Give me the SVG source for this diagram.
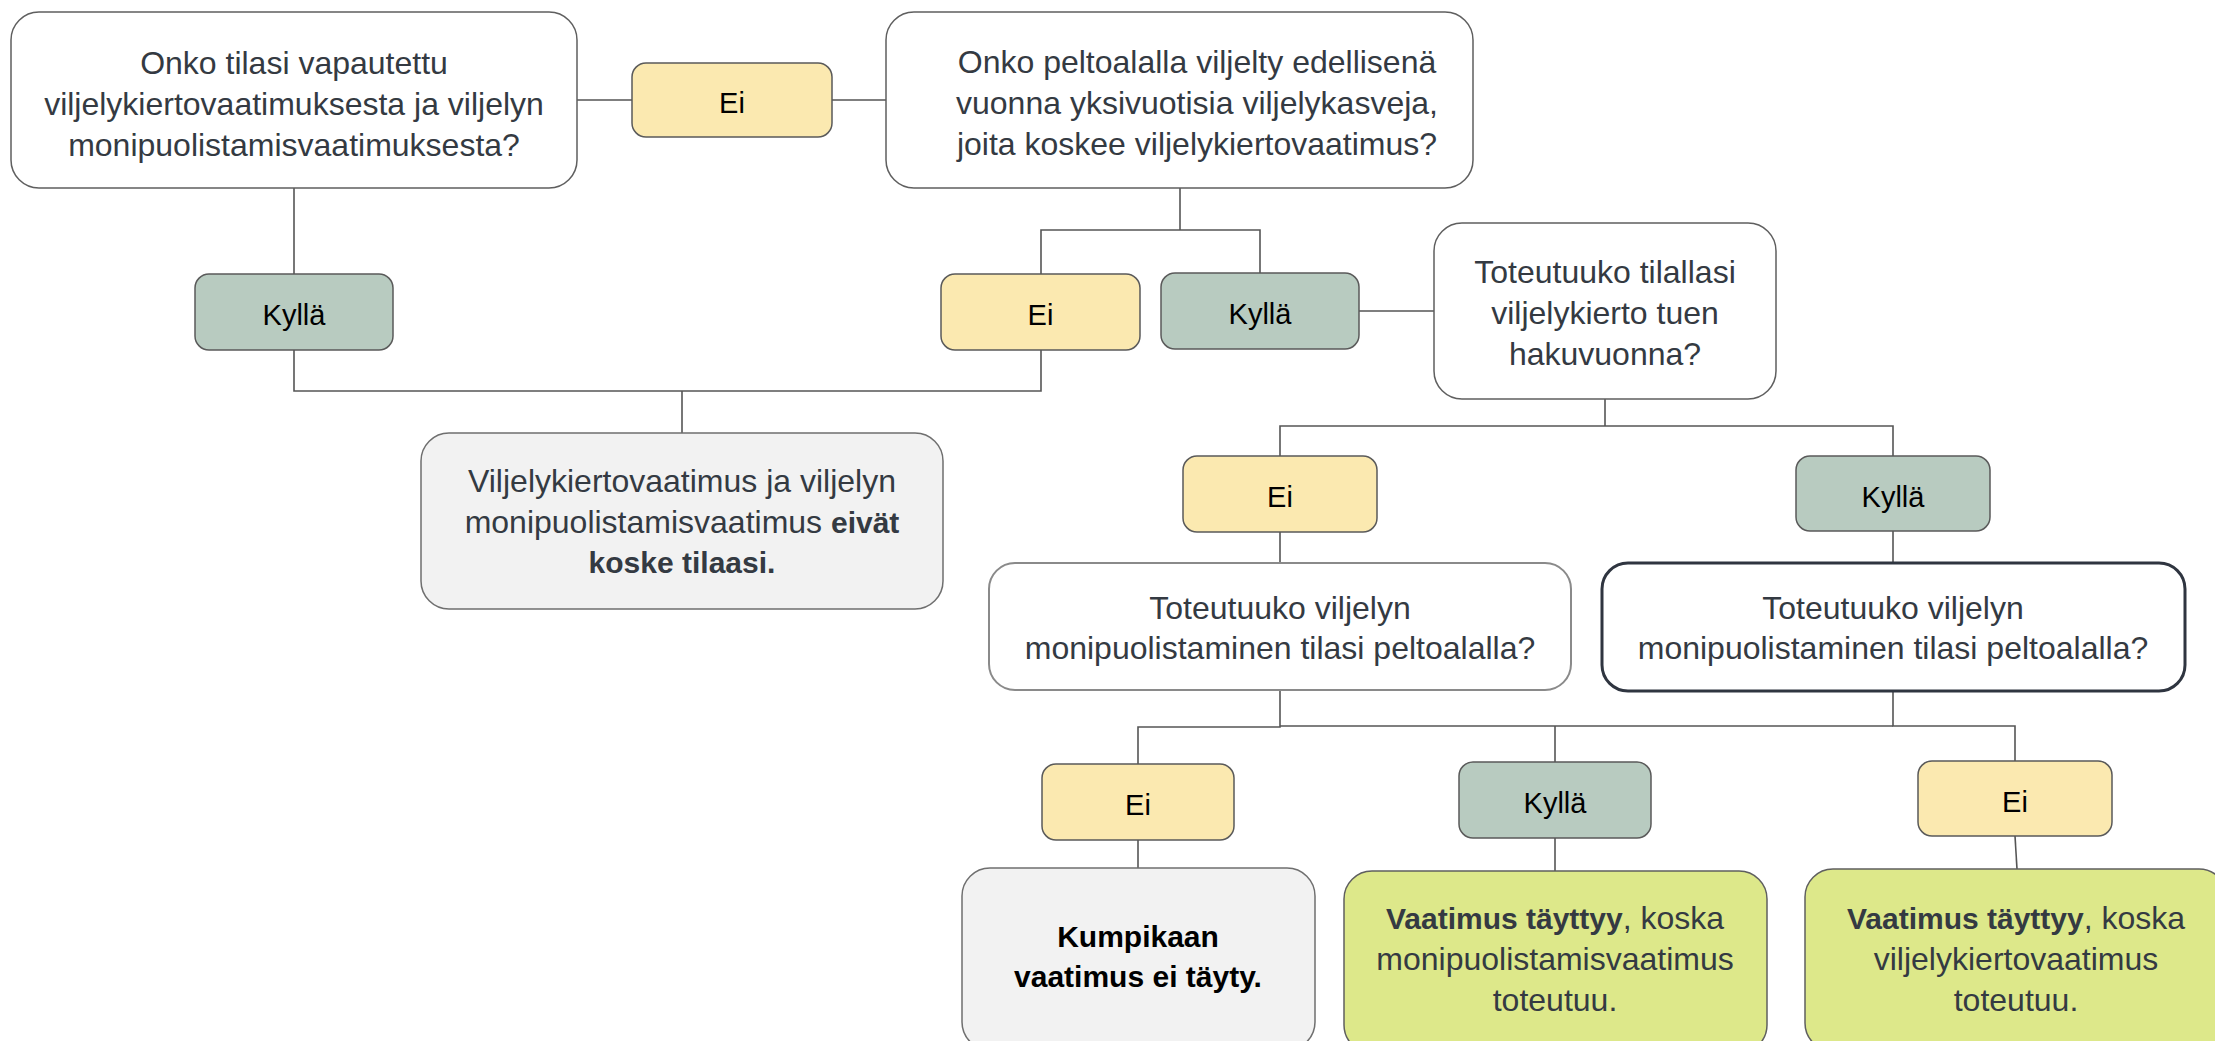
<svg xmlns="http://www.w3.org/2000/svg" width="2215" height="1041" viewBox="0 0 2215 1041">
<style>
.bg{fill:#ffffff}
.q{fill:#ffffff;stroke:#5f5f5f;stroke-width:1.5}
.qe{fill:#ffffff;stroke:#8a8a8a;stroke-width:2}
.qf{fill:#ffffff;stroke:#2f3540;stroke-width:3}
.ei{fill:#fbe9b0;stroke:#5a5a5a;stroke-width:1.5}
.ky{fill:#b8cbc0;stroke:#5a5a5a;stroke-width:1.5}
.gr{fill:#f2f2f2;stroke:#6f6f6f;stroke-width:1.5}
.ok{fill:#dde88a;stroke:#5f5f5f;stroke-width:1.5}
.c{fill:none;stroke:#555555;stroke-width:1.6}
text{font-family:"Liberation Sans",Arial,sans-serif;text-anchor:middle}
.t{font-size:32px;fill:#343a42}
.l{font-size:29px;fill:#000000}
.b{font-weight:bold;font-size:30px}
.k{font-size:30px;font-weight:bold;fill:#000000}
</style>
<rect class="bg" x="0" y="0" width="2215" height="1041"/>
<g id="connectors">
<path class="c" d="M577,100 H632"/>
<path class="c" d="M832,100 H886"/>
<path class="c" d="M294,188 V274"/>
<path class="c" d="M294,350 V391 H1041 V350"/>
<path class="c" d="M682,391 V433"/>
<path class="c" d="M1180,188 V230"/>
<path class="c" d="M1041,274 V230 H1260 V273"/>
<path class="c" d="M1359,311 H1434"/>
<path class="c" d="M1605,399 V426"/>
<path class="c" d="M1280,456 V426 H1893 V456"/>
<path class="c" d="M1280,532 V563"/>
<path class="c" d="M1893,531 V563"/>
<path class="c" d="M1280,690 V727 H1138 V764"/>
<path class="c" d="M1280,726 H1893"/>
<path class="c" d="M1893,691 V726 H2015 V761"/>
<path class="c" d="M1555,726 V762"/>
<path class="c" d="M1138,840 V868"/>
<path class="c" d="M1555,838 V871"/>
<path class="c" d="M2015,836 L2017,869"/>
</g>
<g id="q1">
<rect class="q" x="11" y="12" width="566" height="176" rx="28"/>
<text class="t" x="294" y="74">Onko tilasi vapautettu</text>
<text class="t" x="294" y="115">viljelykiertovaatimuksesta ja viljelyn</text>
<text class="t" x="294" y="156">monipuolistamisvaatimuksesta?</text>
</g>
<g id="ei1">
<rect class="ei" x="632" y="63" width="200" height="74" rx="14"/>
<text class="l" x="732" y="113">Ei</text>
</g>
<g id="q2">
<rect class="q" x="886" y="12" width="587" height="176" rx="28"/>
<text class="t" x="1197" y="73">Onko peltoalalla viljelty edellisenä</text>
<text class="t" x="1197" y="114">vuonna yksivuotisia viljelykasveja,</text>
<text class="t" x="1197" y="155">joita koskee viljelykiertovaatimus?</text>
</g>
<g id="kylla1">
<rect class="ky" x="195" y="274" width="198" height="76" rx="14"/>
<text class="l" x="294" y="325">Kyllä</text>
</g>
<g id="ei2">
<rect class="ei" x="941" y="274" width="199" height="76" rx="14"/>
<text class="l" x="1040.5" y="325">Ei</text>
</g>
<g id="kylla2">
<rect class="ky" x="1161" y="273" width="198" height="76" rx="14"/>
<text class="l" x="1260" y="324">Kyllä</text>
</g>
<g id="q3">
<rect class="q" x="1434" y="223" width="342" height="176" rx="28"/>
<text class="t" x="1605" y="283">Toteutuuko tilallasi</text>
<text class="t" x="1605" y="324">viljelykierto tuen</text>
<text class="t" x="1605" y="365">hakuvuonna?</text>
</g>
<g id="result1">
<rect class="gr" x="421" y="433" width="522" height="176" rx="28"/>
<text class="t" x="682" y="492">Viljelykiertovaatimus ja viljelyn</text>
<text class="t" x="682" y="533">monipuolistamisvaatimus <tspan class="b">eivät</tspan></text>
<text class="t b" x="682" y="573">koske tilaasi.</text>
</g>
<g id="ei3">
<rect class="ei" x="1183" y="456" width="194" height="76" rx="14"/>
<text class="l" x="1280" y="507">Ei</text>
</g>
<g id="kylla3">
<rect class="ky" x="1796" y="456" width="194" height="75" rx="14"/>
<text class="l" x="1893" y="507">Kyllä</text>
</g>
<g id="q4">
<rect class="qe" x="989" y="563" width="582" height="127" rx="26"/>
<text class="t" x="1280" y="619">Toteutuuko viljelyn</text>
<text class="t" x="1280" y="659">monipuolistaminen tilasi peltoalalla?</text>
</g>
<g id="q5">
<rect class="qf" x="1602" y="563" width="583" height="128" rx="26"/>
<text class="t" x="1893" y="619">Toteutuuko viljelyn</text>
<text class="t" x="1893" y="659">monipuolistaminen tilasi peltoalalla?</text>
</g>
<g id="ei4">
<rect class="ei" x="1042" y="764" width="192" height="76" rx="14"/>
<text class="l" x="1138" y="815">Ei</text>
</g>
<g id="kylla4">
<rect class="ky" x="1459" y="762" width="192" height="76" rx="14"/>
<text class="l" x="1555" y="813">Kyllä</text>
</g>
<g id="ei5">
<rect class="ei" x="1918" y="761" width="194" height="75" rx="14"/>
<text class="l" x="2015" y="812">Ei</text>
</g>
<g id="result2">
<rect class="gr" x="962" y="868" width="353" height="182" rx="28"/>
<text class="k" x="1138" y="947">Kumpikaan</text>
<text class="k" x="1138" y="987">vaatimus ei täyty.</text>
</g>
<g id="result3">
<rect class="ok" x="1344" y="871" width="423" height="182" rx="28"/>
<text class="t" x="1555" y="929"><tspan class="b">Vaatimus täyttyy</tspan>, koska</text>
<text class="t" x="1555" y="970">monipuolistamisvaatimus</text>
<text class="t" x="1555" y="1011">toteutuu.</text>
</g>
<g id="result4">
<rect class="ok" x="1805" y="869" width="422" height="182" rx="28"/>
<text class="t" x="2016" y="929"><tspan class="b">Vaatimus täyttyy</tspan>, koska</text>
<text class="t" x="2016" y="970">viljelykiertovaatimus</text>
<text class="t" x="2016" y="1011">toteutuu.</text>
</g>
</svg>
